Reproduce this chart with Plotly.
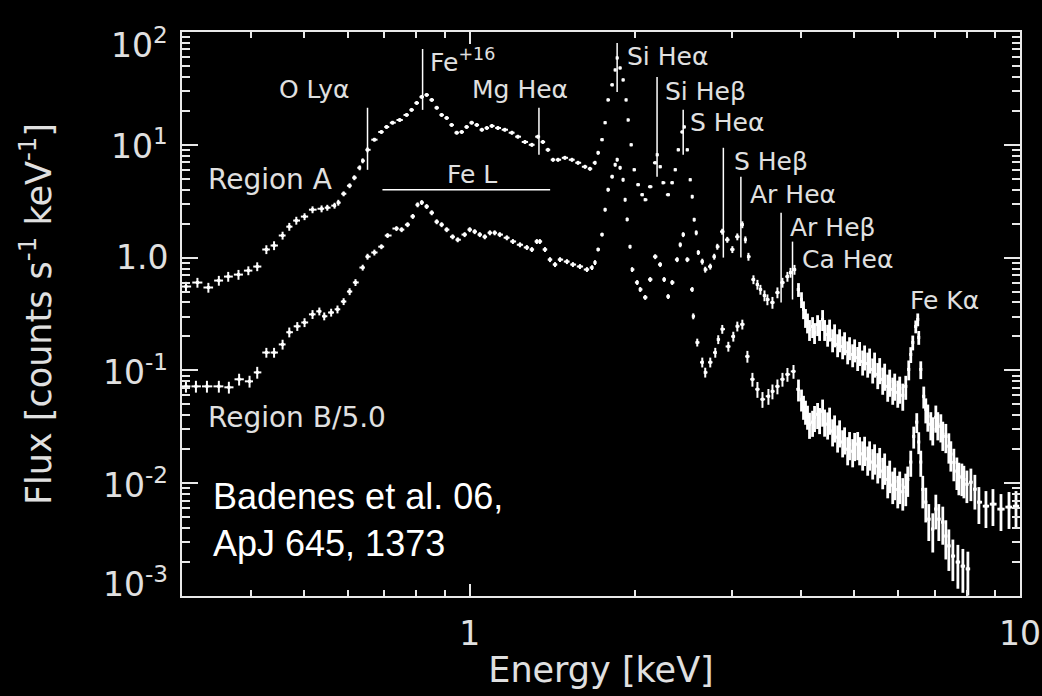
import math
import plotly.graph_objects as go

# ---------------------------------------------------------------------------
# Spectrum of Region A: bin centre energy [keV], flux [counts s^-1 keV^-1],
# fractional 1-sigma uncertainty of each bin
# ---------------------------------------------------------------------------
region_a_energy = [
    0.305, 0.320, 0.335, 0.350, 0.364, 0.380, 0.396, 0.411, 0.427, 0.441,
    0.457, 0.470, 0.484, 0.501, 0.518, 0.538, 0.551, 0.568, 0.577, 0.590,
    0.605, 0.617, 0.631, 0.639, 0.652, 0.671, 0.691, 0.706, 0.724, 0.746,
    0.768, 0.784, 0.801, 0.818, 0.835, 0.853, 0.871, 0.889, 0.908, 0.927,
    0.947, 0.967, 0.987, 1.008, 1.030, 1.052, 1.074, 1.097, 1.125, 1.158,
    1.193, 1.223, 1.260, 1.297, 1.330, 1.358, 1.387, 1.417, 1.447, 1.489,
    1.534, 1.573, 1.620, 1.654, 1.689, 1.711, 1.740, 1.762, 1.784, 1.815,
    1.838, 1.853, 1.876, 1.900, 1.924, 1.940, 1.965, 1.990, 2.023, 2.058,
    2.084, 2.128, 2.173, 2.191, 2.219, 2.246, 2.294, 2.333, 2.363, 2.393,
    2.433, 2.454, 2.485, 2.516, 2.537, 2.558, 2.580, 2.602, 2.646, 2.679,
    2.736, 2.782, 2.818, 2.877, 2.938, 3.001, 3.064, 3.129, 3.169, 3.210,
    3.278, 3.333, 3.375, 3.433, 3.475, 3.549, 3.624, 3.701, 3.779, 3.828,
    3.892,
    3.958, 4.008, 4.042, 4.076, 4.110, 4.145, 4.198, 4.233, 4.287, 4.323,
    4.378, 4.415, 4.471, 4.508, 4.565, 4.603, 4.662, 4.701, 4.761, 4.800,
    4.862, 4.901, 4.965, 5.006, 5.070, 5.111, 5.177, 5.219, 5.287, 5.330,
    5.399, 5.442, 5.514, 5.559, 5.630, 5.676, 5.749, 5.797, 5.871, 5.920,
    5.996, 6.045, 6.123, 6.200, 6.278, 6.331, 6.384, 6.465, 6.519, 6.546,
    6.602, 6.685, 6.742, 6.799, 6.885, 6.942, 7.031, 7.090, 7.180, 7.239,
    7.332, 7.425, 7.487, 7.582, 7.678, 7.743, 7.841, 7.907, 8.007, 8.142,
    8.279, 8.420, 8.672, 8.930, 9.235, 9.550, 9.834,
]
region_a_flux = [
    0.554, 0.601, 0.543, 0.626, 0.679, 0.707, 0.767, 0.833, 1.18, 1.28,
    1.57, 1.88, 2.13, 2.31, 2.66, 2.71, 2.77, 2.89, 3.07, 3.68,
    4.34, 5.11, 6.26, 7.22, 9.03, 11.1, 13.0, 14.4, 15.7, 16.6,
    18.4, 20.4, 23.5, 26.6, 27.7, 25.0, 21.3, 18.4, 17.3, 15.0,
    12.8, 13.0, 14.4, 15.7, 15.0, 13.6, 14.1, 14.7, 14.1, 13.6,
    12.8, 11.8, 10.6, 10.0, 11.8, 10.6, 9.03, 7.37, 7.37, 7.67,
    7.37, 6.93, 6.39, 6.13, 6.93, 8.50, 11.1, 15.7, 25.0, 34.0,
    46.1, 58.9, 48.0, 37.6, 25.0, 16.6, 10.0, 6.01, 4.43, 3.61,
    3.26, 4.25, 6.93, 8.16, 6.39, 4.61, 3.61, 4.61, 6.01, 9.03,
    13.0, 14.4, 9.03, 4.90, 3.47, 2.17, 1.66, 1.11, 0.922, 0.783,
    0.833, 1.02, 1.25, 1.70, 1.44, 1.18, 1.53, 1.96, 1.44, 1.02,
    0.639, 0.577, 0.521, 0.461, 0.425, 0.400, 0.490, 0.601, 0.679, 0.737,
    0.783,
    0.521, 0.425, 0.347, 0.294, 0.266, 0.231, 0.245, 0.217, 0.255, 0.231,
    0.283, 0.231, 0.208, 0.231, 0.188, 0.208, 0.170, 0.188, 0.163, 0.177,
    0.147, 0.160, 0.1385, 0.153, 0.130, 0.144, 0.120, 0.133, 0.115, 0.125,
    0.102, 0.115, 0.0922, 0.102, 0.0833, 0.0903, 0.0722, 0.0799, 0.0679, 0.0737,
    0.0639, 0.0693, 0.0601, 0.0722, 0.102, 0.1385, 0.177, 0.245, 0.283, 0.196,
    0.102, 0.0589, 0.0452, 0.0392, 0.0333, 0.0300, 0.0384, 0.0333, 0.0319, 0.0272,
    0.0260, 0.0213, 0.0181, 0.0153, 0.0128, 0.0115, 0.0113, 0.0108, 0.00980, 0.0102,
    0.00885, 0.00679, 0.00626, 0.00652, 0.00589, 0.00614, 0.00626,
]
region_a_relerr = [
    0.10, 0.10, 0.10, 0.10, 0.10, 0.10, 0.09, 0.09, 0.09, 0.09,
    0.08, 0.08, 0.08, 0.07, 0.07, 0.07, 0.06, 0.06, 0.06, 0.05,
    0.05, 0.05, 0.05, 0.05, 0.05, 0.04, 0.04, 0.04, 0.04, 0.04,
    0.04, 0.04, 0.04, 0.04, 0.04, 0.04, 0.04, 0.04, 0.04, 0.04,
    0.04, 0.04, 0.04, 0.04, 0.04, 0.04, 0.04, 0.04, 0.04, 0.04,
    0.04, 0.04, 0.04, 0.04, 0.04, 0.04, 0.04, 0.04, 0.04, 0.04,
    0.04, 0.04, 0.04, 0.04, 0.04, 0.04, 0.03, 0.03, 0.03, 0.03,
    0.03, 0.03, 0.03, 0.03, 0.03, 0.03, 0.03, 0.03, 0.03, 0.03,
    0.03, 0.03, 0.03, 0.03, 0.03, 0.03, 0.03, 0.03, 0.03, 0.03,
    0.03, 0.03, 0.03, 0.03, 0.04, 0.04, 0.05, 0.05, 0.06, 0.06,
    0.06, 0.06, 0.06, 0.06, 0.06, 0.07, 0.07, 0.07, 0.07, 0.08,
    0.09, 0.10, 0.10, 0.11, 0.11, 0.12, 0.11, 0.10, 0.10, 0.10,
    0.10,
    0.14, 0.16, 0.18, 0.19, 0.20, 0.21, 0.21, 0.21, 0.21, 0.21,
    0.21, 0.21, 0.22, 0.22, 0.23, 0.23, 0.23, 0.23, 0.23, 0.23,
    0.23, 0.23, 0.23, 0.23, 0.24, 0.24, 0.25, 0.25, 0.25, 0.25,
    0.25, 0.25, 0.26, 0.26, 0.27, 0.27, 0.27, 0.27, 0.27, 0.27,
    0.27, 0.27, 0.27, 0.24, 0.20, 0.16, 0.15, 0.13, 0.13, 0.14,
    0.18, 0.22, 0.25, 0.27, 0.28, 0.28, 0.27, 0.28, 0.28, 0.29,
    0.29, 0.30, 0.30, 0.32, 0.32, 0.32, 0.32, 0.32, 0.32, 0.32,
    0.34, 0.36, 0.36, 0.36, 0.36, 0.36, 0.36,
]

# ---------------------------------------------------------------------------
# Spectrum of Region B (unscaled); it is drawn divided by region_b_scale
# ---------------------------------------------------------------------------
region_b_scale = 5.0
region_b_energy = [
    0.305, 0.318, 0.333, 0.350, 0.365, 0.381, 0.398, 0.411, 0.427, 0.441,
    0.457, 0.470, 0.486, 0.501, 0.518, 0.533, 0.544, 0.560, 0.575, 0.590,
    0.605, 0.620, 0.639, 0.652, 0.671, 0.691, 0.709, 0.736, 0.752, 0.771,
    0.788, 0.804, 0.818, 0.835, 0.853, 0.871, 0.889, 0.908, 0.931, 0.951,
    0.979, 1.000, 1.021, 1.043, 1.065, 1.088, 1.110, 1.134, 1.168, 1.198,
    1.234, 1.270, 1.297, 1.324, 1.341, 1.370, 1.399, 1.429, 1.459, 1.502,
    1.540, 1.586, 1.633, 1.668, 1.689, 1.711, 1.740, 1.762, 1.784, 1.815,
    1.838, 1.853, 1.876, 1.900, 1.916, 1.932, 1.956, 1.973, 2.015, 2.041,
    2.084, 2.128, 2.173, 2.219, 2.256, 2.294, 2.333, 2.382, 2.413, 2.443,
    2.485, 2.537, 2.548, 2.591, 2.646, 2.679, 2.736, 2.794, 2.829, 2.877,
    2.951, 3.013, 3.064, 3.129, 3.196, 3.264, 3.333, 3.404, 3.490, 3.549,
    3.624, 3.701, 3.779, 3.876,
    3.958, 4.008, 4.042, 4.076, 4.110, 4.145, 4.198, 4.233, 4.287, 4.323,
    4.378, 4.415, 4.471, 4.508, 4.565, 4.603, 4.662, 4.701, 4.761, 4.800,
    4.862, 4.901, 4.965, 5.006, 5.070, 5.111, 5.177, 5.219, 5.287, 5.330,
    5.399, 5.442, 5.514, 5.559, 5.630, 5.676, 5.749, 5.797, 5.871, 5.920,
    5.996, 6.045, 6.123, 6.200, 6.252, 6.331, 6.410, 6.492, 6.546, 6.602,
    6.657, 6.742, 6.827, 6.942, 7.031, 7.120, 7.239, 7.332, 7.425, 7.551,
    7.711, 7.874, 8.041,
]
region_b_flux = [
    0.361, 0.361, 0.361, 0.361, 0.354, 0.417, 0.400, 0.480, 0.72, 0.72,
    0.85, 1.09, 1.23, 1.33, 1.57, 1.67, 1.51, 1.63, 1.74, 2.04,
    2.50, 3.01, 4.08, 5.1, 5.55, 6.25, 7.85, 9.05, 8.85, 9.8,
    11.6, 14.7, 15.4, 14.2, 12.5, 10.4, 9.8, 8.85, 7.65, 7.2,
    8.0, 8.85, 8.5, 8.0, 7.65, 8.3, 8.3, 8.0, 7.5, 6.95,
    6.5, 6.15, 5.9, 6.95, 6.95, 5.9, 4.8, 4.34, 4.8, 4.61,
    4.34, 4.17, 3.92, 4.08, 4.52, 5.9, 8.0, 13.3, 20.0, 26.1,
    33.3, 36.9, 31.3, 24.5, 16.3, 10.9, 6.25, 3.92, 3.01, 2.61,
    2.22, 3.20, 5.1, 4.34, 3.20, 2.26, 3.01, 4.8, 6.5, 8.0,
    4.8, 2.61, 1.51, 0.885, 0.59, 0.48, 0.59, 0.72, 0.94, 1.16,
    0.815, 1.00, 1.23, 1.28, 0.665, 0.417, 0.340, 0.277, 0.295, 0.326,
    0.361, 0.417, 0.461, 0.490,
    0.340, 0.277, 0.240, 0.217, 0.196, 0.167, 0.174, 0.192, 0.204, 0.184,
    0.217, 0.177, 0.167, 0.184, 0.145, 0.157, 0.128, 0.142, 0.116, 0.123,
    0.100, 0.111, 0.096, 0.109, 0.111, 0.100, 0.091, 0.100, 0.082, 0.091,
    0.077, 0.085, 0.071, 0.079, 0.064, 0.070, 0.054, 0.060, 0.048, 0.052,
    0.044, 0.048, 0.042, 0.046, 0.054, 0.077, 0.130, 0.174, 0.116, 0.077,
    0.044, 0.034, 0.024, 0.0196, 0.0295, 0.024, 0.0226, 0.0170, 0.0139, 0.0113,
    0.0100, 0.0092, 0.0087,
]
region_b_relerr = [
    0.12, 0.12, 0.12, 0.12, 0.12, 0.12, 0.12, 0.12, 0.10, 0.10,
    0.10, 0.10, 0.09, 0.09, 0.09, 0.08, 0.08, 0.08, 0.08, 0.07,
    0.07, 0.07, 0.06, 0.06, 0.06, 0.05, 0.05, 0.05, 0.05, 0.05,
    0.05, 0.05, 0.05, 0.05, 0.05, 0.05, 0.05, 0.05, 0.05, 0.05,
    0.05, 0.05, 0.05, 0.05, 0.05, 0.05, 0.05, 0.05, 0.05, 0.05,
    0.05, 0.05, 0.05, 0.05, 0.05, 0.05, 0.05, 0.05, 0.05, 0.05,
    0.05, 0.05, 0.05, 0.05, 0.05, 0.04, 0.04, 0.04, 0.04, 0.04,
    0.04, 0.04, 0.04, 0.04, 0.04, 0.04, 0.04, 0.05, 0.05, 0.05,
    0.05, 0.05, 0.05, 0.05, 0.05, 0.05, 0.05, 0.05, 0.05, 0.05,
    0.05, 0.05, 0.06, 0.08, 0.10, 0.10, 0.10, 0.10, 0.09, 0.09,
    0.10, 0.10, 0.10, 0.10, 0.12, 0.14, 0.16, 0.16, 0.16, 0.15,
    0.15, 0.14, 0.14, 0.14,
    0.22, 0.22, 0.24, 0.24, 0.24, 0.26, 0.26, 0.26, 0.26, 0.26,
    0.27, 0.27, 0.27, 0.27, 0.27, 0.27, 0.27, 0.27, 0.27, 0.27,
    0.28, 0.28, 0.28, 0.28, 0.28, 0.28, 0.29, 0.29, 0.29, 0.29,
    0.30, 0.30, 0.30, 0.30, 0.31, 0.31, 0.32, 0.32, 0.32, 0.32,
    0.32, 0.32, 0.32, 0.32, 0.30, 0.26, 0.22, 0.20, 0.22, 0.26,
    0.32, 0.34, 0.36, 0.38, 0.34, 0.36, 0.37, 0.38, 0.40, 0.40,
    0.42, 0.42, 0.42,
]
# boundary between the soft (thin error bars) and hard (heavier) parts of each spectrum
hard_band_energy = 3.93

# ---------------------------------------------------------------------------
# Emission-line identifications: line energy and the flux span of its marker
# ---------------------------------------------------------------------------
line_names = ["O Ly\u03b1", "Fe<sup>+16</sup>", "Mg He\u03b1", "Si He\u03b1", "Si He\u03b2",
              "S He\u03b1", "S He\u03b2", "Ar He\u03b1", "Ar He\u03b2", "Ca He\u03b1"]
line_energy = [0.652, 0.821, 1.336, 1.853, 2.19, 2.443, 2.89, 3.11, 3.68, 3.86]
line_flux_top = [21.3, 70.7, 21.3, 79.9, 40.0, 20.4, 9.41, 5.21, 2.50, 1.386]
line_flux_bottom = [6.0, 20.4, 8.16, 29.4, 5.21, 8.16, 1.0, 1.0, 0.40, 0.425]
fe_l_energy_range = [0.694, 1.40]
fe_l_flux = 4.0

# Label anchors (left edge energy, flux at text middle)
line_label_pos = [(0.447, 30.7), (0.839, 55.4), (1.0, 30.7), (1.916, 60.1), (2.246, 29.4),
                  (2.495, 15.65), (3.001, 7.07), (3.21, 3.61), (3.795, 1.843), (3.99, 0.960)]
extra_labels = [("Fe K\u03b1", 6.25, 0.4164, 25),
                ("Fe L", 0.901, 5.43, 25),
                ("Region A", 0.332, 4.90, 28),
                ("Region B/5.0", 0.332, 0.0384, 28)]
credit_text = "Badenes et al. 06,<br>ApJ 645, 1373"
credit_pos = (0.339, 0.0047)

x_tick_values = [1, 10]
x_tick_text = ["1", "10"]
y_tick_values = [1e-3, 1e-2, 1e-1, 1, 10, 100]
y_tick_text = ["10<sup>-3</sup>", "10<sup>-2</sup>", "10<sup>-1</sup>", "1.0",
               "10<sup>1</sup>", "10<sup>2</sup>"]
# labels at the ends of the axis are pulled inside the frame
y_tick_label_shift = [14, 0, 0, 0, 0, -11]

AXIS_COLOR = "#e8e8e8"
TEXT_COLOR = "#e0e0e0"
IDL_FONT = "DejaVu Sans"


def half_bins(energy, frac=0.9):
    """Half widths of each energy bin, from the geometric midpoints to its neighbours."""
    lo, hi = [], []
    n = len(energy)
    for i, e in enumerate(energy):
        prev_e = energy[i - 1] if i > 0 else e * e / energy[i + 1]
        next_e = energy[i + 1] if i < n - 1 else e * e / energy[i - 1]
        lo.append(frac * (e - math.sqrt(prev_e * e)))
        hi.append(frac * (math.sqrt(e * next_e) - e))
    return lo, hi


def spectrum_traces(energy, flux, relerr):
    """Error-bar crosses for one spectrum, split into a soft and a hard part."""
    lo, hi = half_bins(energy)
    err = [f * r for f, r in zip(flux, relerr)]
    traces = []
    for is_hard, thick in ((False, 2.0), (True, 2.8)):
        idx = [i for i, e in enumerate(energy) if (e > hard_band_energy) == is_hard]
        traces.append(go.Scatter(
            x=[energy[i] for i in idx], y=[flux[i] for i in idx], mode="markers",
            marker=dict(size=3, color="white", symbol="square", line=dict(width=0)),
            error_x=dict(type="data", symmetric=False,
                         array=[hi[i] for i in idx], arrayminus=[lo[i] for i in idx],
                         color="white", thickness=thick, width=0),
            error_y=dict(type="data", array=[err[i] for i in idx],
                         color="white", thickness=thick, width=0),
            showlegend=False, hoverinfo="skip",
        ))
    return traces


fig = go.Figure()
for tr in spectrum_traces(region_a_energy, region_a_flux, region_a_relerr):
    fig.add_trace(tr)
for tr in spectrum_traces(region_b_energy,
                          [f / region_b_scale for f in region_b_flux],
                          region_b_relerr):
    fig.add_trace(tr)

# vertical markers for the identified lines
mx, my = [], []
for e, lo_f, hi_f in zip(line_energy, line_flux_bottom, line_flux_top):
    mx += [e, e, None]
    my += [lo_f, hi_f, None]
fig.add_trace(go.Scatter(x=mx, y=my, mode="lines", line=dict(color="white", width=1.5),
                         showlegend=False, hoverinfo="skip"))
# Fe L complex bar
fig.add_trace(go.Scatter(x=fe_l_energy_range, y=[fe_l_flux, fe_l_flux], mode="lines",
                         line=dict(color="white", width=1.5), showlegend=False, hoverinfo="skip"))

annotations = []
for name, (ex, fy) in zip(line_names, line_label_pos):
    annotations.append(dict(x=math.log10(ex), y=math.log10(fy), text=name, showarrow=False,
                            xanchor="left", yanchor="middle",
                            font=dict(family=IDL_FONT, size=25, color=TEXT_COLOR)))
for text, ex, fy, size in extra_labels:
    annotations.append(dict(x=math.log10(ex), y=math.log10(fy), text=text, showarrow=False,
                            xanchor="left", yanchor="middle",
                            font=dict(family=IDL_FONT, size=size, color=TEXT_COLOR)))
annotations.append(dict(x=math.log10(credit_pos[0]), y=math.log10(credit_pos[1]),
                        text=credit_text, showarrow=False, align="left",
                        xanchor="left", yanchor="middle",
                        font=dict(family="Liberation Sans, Arial", size=36, color="white")))
# y tick labels (drawn as text so the end labels can sit inside the frame)
for val, txt, shift in zip(y_tick_values, y_tick_text, y_tick_label_shift):
    annotations.append(dict(x=0, xref="paper", xanchor="right", xshift=-12,
                            y=math.log10(val), yref="y", yanchor="middle", yshift=shift,
                            text=txt, showarrow=False,
                            font=dict(family=IDL_FONT, size=33, color=TEXT_COLOR)))

x_minor = [v * d for d in (0.1, 1) for v in range(2, 10) if 0.3 <= v * d <= 10]
y_minor = [v * 10.0 ** p for p in range(-3, 2) for v in range(2, 10)]

fig.update_layout(
    width=1042, height=696,
    margin=dict(l=182, r=22, t=32, b=100),
    paper_bgcolor="black", plot_bgcolor="black",
    font=dict(family=IDL_FONT, color=TEXT_COLOR),
    annotations=annotations,
    showlegend=False,
)
fig.update_xaxes(
    type="log", range=[math.log10(0.3), 1],
    tickmode="array", tickvals=x_tick_values, ticktext=x_tick_text,
    ticks="inside", ticklen=12, tickwidth=2, tickcolor=AXIS_COLOR,
    minor=dict(tickmode="array", tickvals=x_minor, ticks="inside", ticklen=6,
               tickwidth=1.5, tickcolor=AXIS_COLOR, showgrid=False),
    showline=True, linecolor=AXIS_COLOR, linewidth=2, mirror="allticks",
    showgrid=False, zeroline=False,
    tickfont=dict(family=IDL_FONT, size=33, color=TEXT_COLOR),
    ticklabelstandoff=7,
    title=dict(text="Energy [keV]", font=dict(family=IDL_FONT, size=35, color=TEXT_COLOR),
               standoff=6),
    automargin=False,
)
fig.update_yaxes(
    type="log", range=[-3, 2],
    tickmode="array", tickvals=y_tick_values, ticktext=y_tick_text,
    showticklabels=False,
    ticks="inside", ticklen=16, tickwidth=2, tickcolor=AXIS_COLOR,
    minor=dict(tickmode="array", tickvals=y_minor, ticks="inside", ticklen=8,
               tickwidth=1.5, tickcolor=AXIS_COLOR, showgrid=False),
    showline=True, linecolor=AXIS_COLOR, linewidth=2, mirror="allticks",
    showgrid=False, zeroline=False,
    title=dict(text="Flux [counts s<sup>-1</sup> keV<sup>-1</sup>]",
               font=dict(family=IDL_FONT, size=35, color=TEXT_COLOR), standoff=118),
    automargin=False,
)

fig.write_html("out.html")
